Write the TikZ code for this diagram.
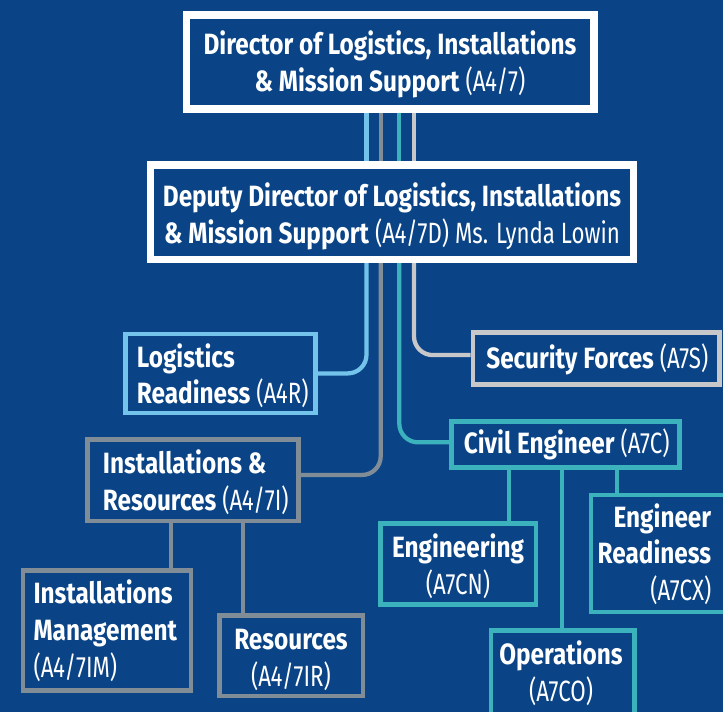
\documentclass[tikz,border=0pt]{standalone}
\usepackage{fontspec}
\setmainfont{Fira Sans}[UprightFeatures={FakeStretch=0.76},BoldFeatures={FakeStretch=0.83}]
\usetikzlibrary{backgrounds}
\definecolor{bgblue}{RGB}{10,68,135}
\definecolor{lblue}{RGB}{115,195,235}
\definecolor{mgray}{RGB}{128,140,150}
\definecolor{tealc}{RGB}{60,178,188}
\definecolor{lgray}{RGB}{200,200,202}
\begin{document}
\begin{tikzpicture}[x=0.75pt,y=-0.75pt,
  wbox/.style={draw=white,line width=5.5pt,fill=bgblue,inner sep=0pt},
  cbox/.style={draw=#1,line width=3.4pt,fill=bgblue,inner sep=0pt},
  txt/.style={inner sep=0pt,text=white,font=\fontsize{22}{27.5}\selectfont},
  conn/.style={draw=#1,line width=3.2pt},
  rc/.style={rounded corners=14pt}]
\useasboundingbox (0,0) rectangle (723,712);
\clip (0,0) rectangle (723,712);

% boxes
\node[wbox,minimum width=305.8pt,minimum height=70.5pt] (dir) at (390.2,62) {};
\node[wbox,minimum width=362.3pt,minimum height=70.7pt] (dep) at (392,212.3) {};
\node[cbox=lblue,minimum width=142.7pt,minimum height=59.1pt] (lr) at (220.6,373.4) {};
\node[cbox=mgray,minimum width=158.4pt,minimum height=61.1pt] (ir) at (192.9,480.3) {};
\node[cbox=lgray,minimum width=184.9pt,minimum height=39.2pt] (sf) at (596.2,358.4) {};
\node[cbox=tealc,minimum width=171.2pt,minimum height=34.7pt] (ce) at (565.4,444.6) {};
\node[cbox=tealc,minimum width=116.6pt,minimum height=61pt] (en) at (458.3,563.9) {};
\node[cbox=tealc,minimum width=107.5pt,minimum height=70.5pt] (op) at (562.8,677.5) {};
\node[cbox=tealc,minimum width=101.9pt,minimum height=87.8pt] (er) at (659.1,553.5) {};
\node[cbox=mgray,minimum width=126pt,minimum height=90pt] (im) at (107,630.5) {};
\node[cbox=mgray,minimum width=107.5pt,minimum height=60.4pt] (rs) at (291.2,655.8) {};

% texts
\node[txt,align=center] (dirT) at (390,64.2) {\textbf{Director of Logistics, Installations}\\\textbf{\& Mission Support} (A4/7)};
\node[txt,align=center] (depT) at (392,216.2) {\textbf{Deputy Director of Logistics, Installations}\\\textbf{\& Mission Support} (A4/7D) Ms. Lynda Lowin};
\node[txt,align=left,anchor=west] (lrT) at (136.7,375.8) {\textbf{Logistics}\\\textbf{Readiness} (A4R)};
\node[txt,align=left,anchor=west] (irT) at (102.7,482.3) {\textbf{Installations \&}\\\textbf{Resources} (A4/7I)};
\node[txt] (sfT) at (597.3,359.2) {\textbf{Security Forces} (A7S)};
\node[txt] (ceT) at (566.7,444.2) {\textbf{Civil Engineer} (A7C)};
\node[txt,align=center] (enT) at (458,566) {\textbf{Engineering}\\(A7CN)};
\node[txt,align=center] (opT) at (561,673) {\textbf{Operations}\\(A7CO)};
\node[txt,align=right,anchor=east] (erT) at (711.5,554.2) {\textbf{Engineer}\\\textbf{Readiness}\\(A7CX)};
\node[txt,align=left,anchor=west] (imT) at (33.3,630.8) {\textbf{Installations}\\\textbf{Management}\\(A4/7IM)};
\node[txt,align=center] (rsT) at (291,660) {\textbf{Resources}\\(A4/7IR)};

\coordinate (xa) at (366.5,0);
\coordinate (xb) at (380.7,0);
\coordinate (xc) at (399.3,0);
\coordinate (xd) at (414,0);
\coordinate (xe) at (170.7,0);
\coordinate (xf) at (243,0);
\coordinate (xg) at (509.3,0);
\coordinate (xh) at (562.3,0);
\coordinate (xi) at (616.7,0);

\begin{pgfonlayer}{background}
\fill[bgblue] (0,0) rectangle (723,712);
\draw[conn=lblue] (dir.south -| xa) -- (dep.north -| xa);
\draw[conn=mgray] (dir.south -| xb) -- (dep.north -| xb);
\draw[conn=tealc] (dir.south -| xc) -- (dep.north -| xc);
\draw[conn=lgray] (dir.south -| xd) -- (dep.north -| xd);
\draw[conn=lblue,rc] (dep.south -| xa) |- (lr.east);
\draw[conn=mgray,rc] (dep.south -| xb) |- ([yshift=4pt]ir.east);
\draw[conn=tealc,rc] (dep.south -| xc) |- ([yshift=1.7pt]ce.west);
\draw[conn=lgray,rc] (dep.south -| xd) |- ([yshift=2.5pt]sf.west);
\draw[conn=mgray] (ir.south -| xe) -- (im.north -| xe);
\draw[conn=mgray] (ir.south -| xf) -- (rs.north -| xf);
\draw[conn=tealc] (ce.south -| xg) -- (en.north -| xg);
\draw[conn=tealc] (ce.south -| xh) -- (op.north -| xh);
\draw[conn=tealc] (ce.south -| xi) -- (er.north -| xi);
\end{pgfonlayer}
\end{tikzpicture}
\end{document}
